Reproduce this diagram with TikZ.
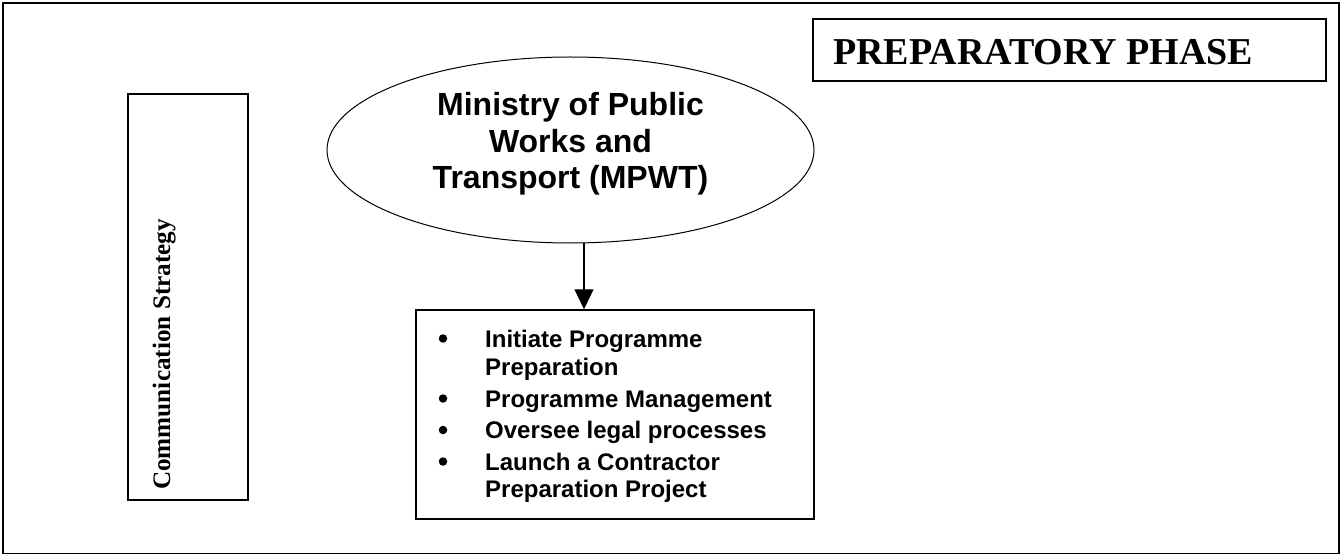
\documentclass[tikz,border=0pt]{standalone}
\usepackage{fontspec}
\setmainfont{Liberation Serif}
\newfontfamily\arialfont{Liberation Sans}
\usetikzlibrary{arrows.meta,shapes.geometric}

\begin{document}
\begin{tikzpicture}[x=1pt,y=-1pt,
  framebox/.style={draw, line width=1.3pt, inner sep=0pt},
  panel/.style={draw, line width=1.5pt, inner sep=0pt},
  phasetext/.style={inner sep=0pt, anchor=base west, font=\bfseries\fontsize{38}{40}\selectfont},
  sidetext/.style={inner sep=0pt, anchor=base west, rotate=90, font=\bfseries\fontsize{25.2}{28}\selectfont},
  orgtext/.style={inner sep=0pt, align=center, font=\arialfont\bfseries\fontsize{32}{36.5}\selectfont},
  itemtext/.style={inner sep=0pt, anchor=base west, font=\arialfont\bfseries\fontsize{24}{28}\selectfont},
  bulletmark/.style={circle, fill, inner sep=0pt, minimum size=8.5pt},
  flow/.style={line width=1.3pt, -{Triangle[width=19pt,length=20pt]}}
]
\useasboundingbox (0,0) rectangle (1341,556);

% outer frame
\node[framebox, minimum width=1336, minimum height=550.5] (frame) at (671,278.25) {};

% phase title
\node[panel, minimum width=513, minimum height=62] (phase) at (1069.5,50) {};
\node[phasetext] (phasetitle) at (833,65) {PREPARATORY PHASE};

% communication strategy column
\node[panel, minimum width=120, minimum height=406] (comm) at (188,297) {};
\node[sidetext] (commtitle) at (170,490) {Communication Strategy};

% ministry
\node[ellipse, draw, line width=1pt, inner sep=0pt, minimum width=487, minimum height=186] (ell) at (570.5,150) {};
\node[orgtext] (ministry) at (570.5,144) {Ministry of Public\\Works and\\Transport (MPWT)};

% task list
\node[panel, minimum width=398, minimum height=209] (tasks) at (615,414.5) {};

\node[bulletmark] (b1) at (443,338.5) {};
\node[itemtext] (t1a) at (485,347) {Initiate Programme};
\node[itemtext] (t1b) at (485,375) {Preparation};
\node[bulletmark] (b2) at (443,398.5) {};
\node[itemtext] (t2) at (485,407) {Programme Management};
\node[bulletmark] (b3) at (443,430) {};
\node[itemtext] (t3) at (485,438) {Oversee legal processes};
\node[bulletmark] (b4) at (443,461.5) {};
\node[itemtext] (t4a) at (485,470) {Launch a Contractor};
\node[itemtext] (t4b) at (485,497) {Preparation Project};

% connector
\coordinate (arrtop) at (584,242.9);
\draw[flow] (arrtop) -- (arrtop |- tasks.north);
\end{tikzpicture}
\end{document}
